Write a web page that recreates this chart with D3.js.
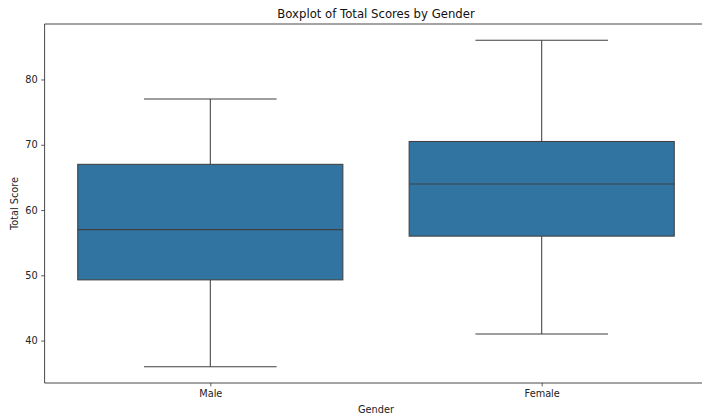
<!DOCTYPE html>
<html>
<head>
<meta charset="utf-8">
<script src="https://cdn.jsdelivr.net/npm/d3@7"></script>
<style>
  body { margin: 0; background: #fff; }
  svg { display: block; font-family: "DejaVu Sans", sans-serif; }
</style>
</head>
<body>
<svg id="chart" width="702" height="417"></svg>
<script>
// Five-number summaries of total score per gender
const genders = ["Male", "Female"];
const lowerWhisker = [36, 41];
const q1 = [49.3, 56];
const median = [57, 64];
const q3 = [67, 70.5];
const upperWhisker = [77, 86];
const yTicks = [40, 50, 60, 70, 80];

const svg = d3.select("#chart");
const plotLeft = 44.6, plotRight = 707.4, plotTop = 24, plotBottom = 383;

const x = d3.scalePoint().domain(genders).range([plotLeft, plotRight]).padding(0.5);
const step = x.step();
const y = d3.scaleLinear().domain([33.5, 88.5]).range([plotBottom, plotTop]);

const boxes = genders.map((g, i) => ({
  g, lo: lowerWhisker[i], q1: q1[i], med: median[i], q3: q3[i], hi: upperWhisker[i]
}));

const lineColor = "#3f3f3f";
const fill = "#3274a1";
const boxW = step * 0.8, capW = step * 0.4;

const grp = svg.append("g").selectAll("g").data(boxes).join("g");

// whiskers
grp.append("line")
  .attr("x1", d => x(d.g)).attr("x2", d => x(d.g))
  .attr("y1", d => y(d.q3)).attr("y2", d => y(d.hi))
  .attr("stroke", lineColor).attr("stroke-width", 1.05);
grp.append("line")
  .attr("x1", d => x(d.g)).attr("x2", d => x(d.g))
  .attr("y1", d => y(d.q1)).attr("y2", d => y(d.lo))
  .attr("stroke", lineColor).attr("stroke-width", 1.05);
// caps
grp.append("line")
  .attr("x1", d => x(d.g) - capW / 2).attr("x2", d => x(d.g) + capW / 2)
  .attr("y1", d => y(d.hi)).attr("y2", d => y(d.hi))
  .attr("stroke", lineColor).attr("stroke-width", 1.05);
grp.append("line")
  .attr("x1", d => x(d.g) - capW / 2).attr("x2", d => x(d.g) + capW / 2)
  .attr("y1", d => y(d.lo)).attr("y2", d => y(d.lo))
  .attr("stroke", lineColor).attr("stroke-width", 1.05);
// boxes
grp.append("rect")
  .attr("x", d => x(d.g) - boxW / 2).attr("width", boxW)
  .attr("y", d => y(d.q3)).attr("height", d => y(d.q1) - y(d.q3))
  .attr("fill", fill).attr("stroke", lineColor).attr("stroke-width", 1.05);
// medians
grp.append("line")
  .attr("x1", d => x(d.g) - boxW / 2).attr("x2", d => x(d.g) + boxW / 2)
  .attr("y1", d => y(d.med)).attr("y2", d => y(d.med))
  .attr("stroke", lineColor).attr("stroke-width", 1.05);

// axes
const yAxis = svg.append("g").attr("transform", `translate(${plotLeft},0)`)
  .call(d3.axisLeft(y).tickValues(yTicks).tickSize(3.4).tickPadding(3.5));
const xAxis = svg.append("g").attr("transform", `translate(0,${plotBottom})`)
  .call(d3.axisBottom(x).tickSize(3.4).tickPadding(3.5));
[yAxis, xAxis].forEach(a => {
  a.select(".domain").remove();
  a.selectAll(".tick line").attr("stroke", "#333").attr("stroke-width", 0.8);
  a.selectAll(".tick text").attr("fill", "#222").style("font-size", "9.75px")
    .style("font-family", "'DejaVu Sans', sans-serif");
});

// frame
const spine = (x1, y1, x2, y2) => svg.append("line")
  .attr("x1", x1).attr("y1", y1).attr("x2", x2).attr("y2", y2)
  .attr("stroke", "#333").attr("stroke-width", 0.9);
spine(plotLeft, plotTop, plotLeft, plotBottom);
spine(plotLeft, plotBottom, plotRight, plotBottom);
spine(plotLeft, plotTop, plotRight, plotTop);
spine(plotRight, plotTop, plotRight, plotBottom);

// labels
const cx = (plotLeft + plotRight) / 2;
svg.append("text").attr("x", cx).attr("y", 18).attr("text-anchor", "middle")
  .style("font-size", "11.7px").attr("fill", "#111").text("Boxplot of Total Scores by Gender");
svg.append("text").attr("x", cx).attr("y", 413).attr("text-anchor", "middle")
  .style("font-size", "9.75px").attr("fill", "#222").text("Gender");
svg.append("text").attr("transform", `translate(18,${(plotTop + plotBottom) / 2}) rotate(-90)`)
  .attr("text-anchor", "middle").style("font-size", "9.75px").attr("fill", "#222").text("Total Score");
</script>
</body>
</html>
